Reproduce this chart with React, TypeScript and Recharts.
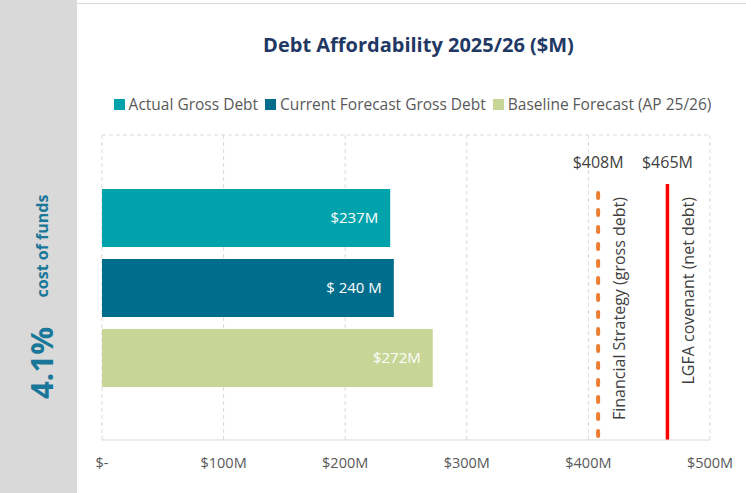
import React from 'react';
import { BarChart, Bar, XAxis, YAxis, CartesianGrid, ReferenceLine, LabelList } from 'recharts';

const CATEGORIES = ['Debt 2025/26'];
const SERIES_NAMES = ['Actual Gross Debt', 'Current Forecast Gross Debt', 'Baseline Forecast (AP 25/26)'];
const SERIES_VALUES = [237, 240, 272];
const SERIES_LABELS = ['$237M', '$ 240 M', '$272M'];
const SERIES_COLORS = ['#00A3AC', '#006D8C', '#C7D596'];
const X_TICKS = [0, 100, 200, 300, 400, 500];
const X_TICK_LABELS = ['$-', '$100M', '$200M', '$300M', '$400M', '$500M'];
const LIMIT_VALUES = [408, 465];
const LIMIT_NAMES = ['Financial Strategy (gross debt)', 'LGFA covenant (net debt)'];
const COST_OF_FUNDS = '4.1%';

const FONT = '"Open Sans", sans-serif';

const data = CATEGORIES.map((name) => {
  const row: Record<string, string | number> = { name };
  SERIES_VALUES.forEach((v, i) => (row[`s${i}`] = v));
  return row;
});

const LIMIT_STYLE = [
  { stroke: '#ED7D31', width: 4, dash: '5 12', gap: 58 },
  { stroke: '#FF0000', width: 3.5, dash: undefined, gap: 49 },
];

const LimitLabel = (props: any) => {
  const { viewBox, value, name } = props;
  if (!viewBox) return null;
  const x = viewBox.x;
  const y = viewBox.y;
  const nx = x + 21;
  const ny = y + 62;
  return (
    <g fontFamily={FONT}>
      <text x={x} y={y + 33} textAnchor="middle" fill="#404040" fontSize={16}>
        ${value}M
      </text>
      <text
        x={nx}
        y={ny}
        textAnchor="end"
        dominantBaseline="central"
        fill="#404040"
        fontSize={16}
        transform={`rotate(-90 ${nx} ${ny})`}
      >
        {name}
      </text>
    </g>
  );
};

export default function App() {
  return (
    <div style={{ position: 'relative', width: 746, height: 493, background: '#fff', fontFamily: FONT }}>
      <style>{'body{margin:0}'}</style>
      <div style={{ position: 'absolute', left: 0, top: 0, width: 77, height: 493, background: '#D9D9D9' }} />
      <div style={{ position: 'absolute', left: 77, top: 3, width: 669, height: 1, background: '#D9D9D9' }} />
      <svg style={{ position: 'absolute', left: 0, top: 0 }} width={77} height={493}>
        <text
          x={42}
          y={246}
          transform="rotate(-90 42 246)"
          textAnchor="middle"
          dominantBaseline="central"
          fill="#19789A"
          fontSize={16}
          fontWeight={700}
          fontFamily={FONT}
        >
          cost of funds
        </text>
        <text
          x={41}
          y={363}
          transform="rotate(-90 41 363)"
          textAnchor="middle"
          dominantBaseline="central"
          fill="#19789A"
          fontSize={31}
          fontWeight={700}
          fontFamily={FONT}
        >
          {COST_OF_FUNDS}
        </text>
      </svg>
      <div
        style={{
          position: 'absolute',
          left: 77,
          width: 669,
          top: 31,
          textAlign: 'center',
          fontSize: 20,
          fontWeight: 700,
          color: '#1F3864',
          paddingLeft: 14,
          boxSizing: 'border-box',
        }}
      >
        Debt Affordability 2025/26 ($M)
      </div>
      <div
        style={{
          position: 'absolute',
          left: 77,
          width: 669,
          top: 93,
          display: 'flex',
          justifyContent: 'center',
          fontSize: 15.5,
          color: '#595959',
          whiteSpace: 'nowrap',
          paddingLeft: 2,
          boxSizing: 'border-box',
        }}
      >
        {SERIES_NAMES.map((n, i) => (
          <span key={n} style={{ display: 'flex', alignItems: 'center', marginRight: i < 2 ? 7 : 0 }}>
            <span style={{ width: 11, height: 11, background: SERIES_COLORS[i], marginRight: 4, display: 'inline-block' }} />
            {n}
          </span>
        ))}
      </div>
      <div style={{ position: 'absolute', left: 0, top: 0 }}>
        <BarChart
          width={746}
          height={493}
          data={data}
          layout="vertical"
          barGap={12}
          margin={{ top: 135, right: 36, left: 102, bottom: 23 }}
        >
          <CartesianGrid
            stroke="#D9D9D9"
            strokeDasharray="4 3"
            horizontalCoordinatesGenerator={({ offset }: any) => [offset.top]}
          />
          <XAxis
            type="number"
            domain={[0, 500]}
            ticks={X_TICKS}
            tickFormatter={(v: number) => X_TICK_LABELS[X_TICKS.indexOf(v)]}
            axisLine={{ stroke: '#D9D9D9' }}
            tickLine={false}
            tickSize={8}
            tickMargin={10}
            height={30}
            tick={{ fill: '#595959', fontSize: 14.5, fontFamily: FONT }}
          />
          <YAxis type="category" dataKey="name" hide />
          {SERIES_NAMES.map((n, i) => (
            <Bar key={n} name={n} dataKey={`s${i}`} fill={SERIES_COLORS[i]} barSize={58} isAnimationActive={false}>
              <LabelList
                dataKey={`s${i}`}
                position="insideRight"
                offset={12}
                fill="#fff"
                fontSize={15}
                fontFamily={FONT}
                formatter={() => SERIES_LABELS[i]}
              />
            </Bar>
          ))}
          {LIMIT_VALUES.map((v, i) => (
            <ReferenceLine
              key={v}
              x={v}
              stroke={LIMIT_STYLE[i].stroke}
              strokeWidth={LIMIT_STYLE[i].width}
              strokeDasharray={LIMIT_STYLE[i].dash}
              shape={(p: any) => (
                <line
                  x1={p.x1}
                  x2={p.x2}
                  y1={Math.min(p.y1, p.y2) + LIMIT_STYLE[i].gap}
                  y2={Math.max(p.y1, p.y2)}
                  stroke={LIMIT_STYLE[i].stroke}
                  strokeWidth={LIMIT_STYLE[i].width}
                  strokeDasharray={LIMIT_STYLE[i].dash}
                  strokeLinecap={LIMIT_STYLE[i].dash ? 'round' : 'butt'}
                />
              )}
              label={<LimitLabel value={v} name={LIMIT_NAMES[i]} />}
            />
          ))}
        </BarChart>
      </div>
    </div>
  );
}
